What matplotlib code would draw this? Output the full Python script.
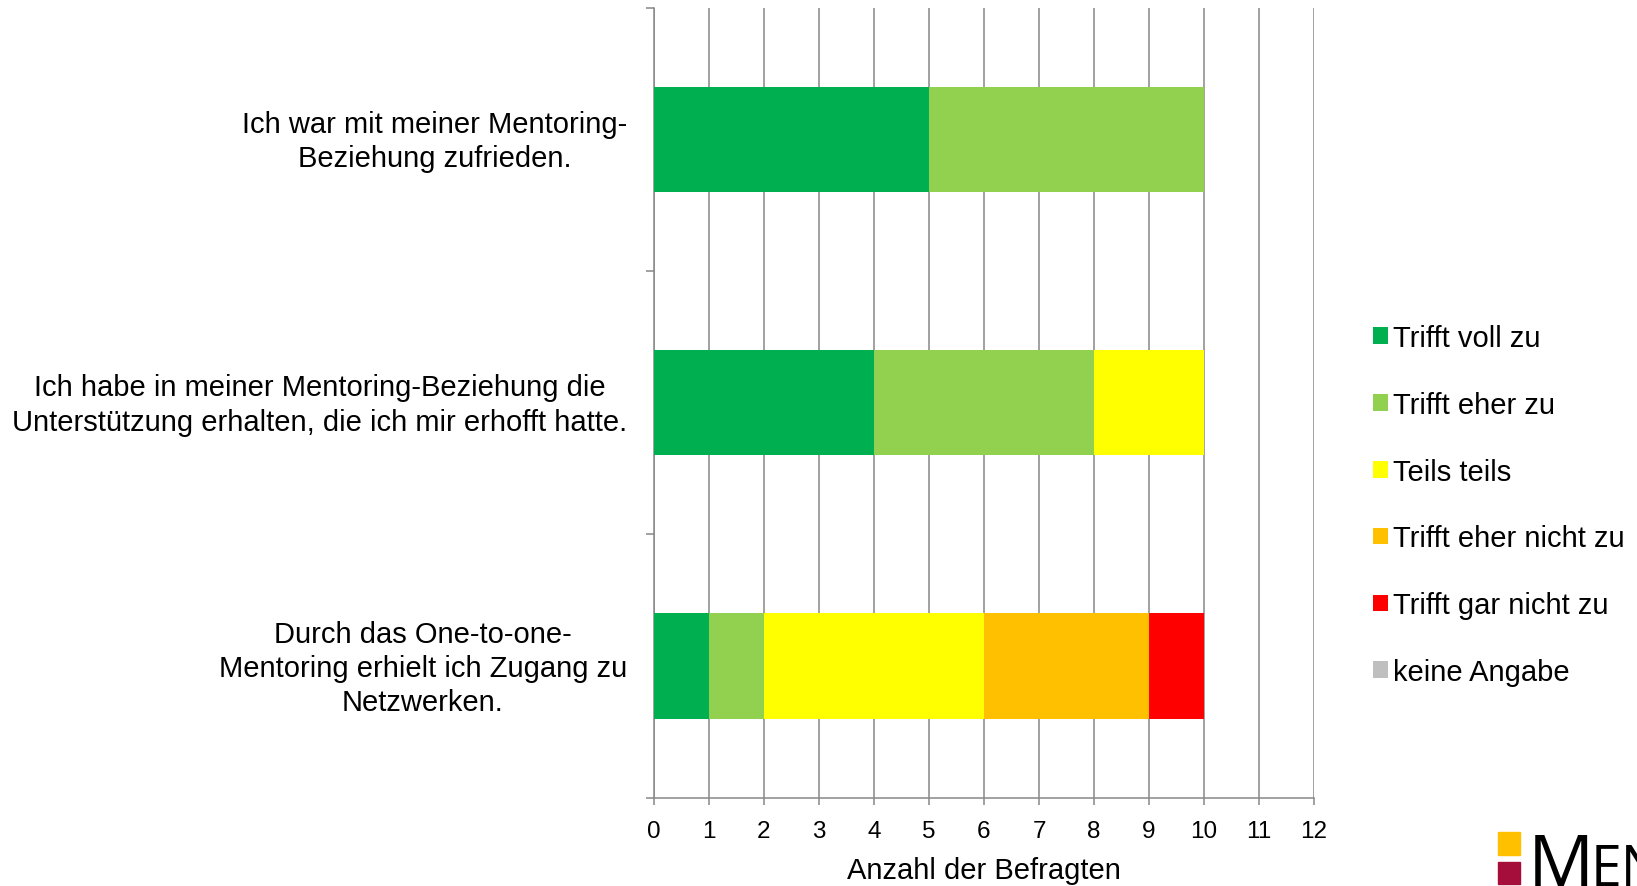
import numpy as np
import matplotlib.pyplot as plt
from matplotlib.patches import Rectangle
from matplotlib.transforms import ScaledTranslation

plt.rcParams['font.family'] = ['Liberation Sans', 'DejaVu Sans']

questions = [
    "Ich war mit meiner Mentoring-\nBeziehung zufrieden.",
    "Ich habe in meiner Mentoring-Beziehung die\nUnterstützung erhalten, die ich mir erhofft hatte.",
    "Durch das One-to-one-\nMentoring erhielt ich Zugang zu\nNetzwerken.",
]
answers = ["Trifft voll zu", "Trifft eher zu", "Teils teils",
           "Trifft eher nicht zu", "Trifft gar nicht zu", "keine Angabe"]
colors = ["#00B050", "#92D050", "#FFFF00", "#FFC000", "#FF0000", "#BFBFBF"]

voll = [5, 4, 1]
eher = [5, 4, 1]
teils = [0, 2, 4]
eher_nicht = [0, 0, 3]
gar_nicht = [0, 0, 1]
keine = [0, 0, 0]
counts = [voll, eher, teils, eher_nicht, gar_nicht, keine]

W, H = 1637, 887
fig = plt.figure(figsize=(W / 100, H / 100), dpi=100)
ax = fig.add_axes([654 / W, 1 - 798.7 / H, 660 / W, 789.7 / H])

y = np.arange(len(questions))
left = np.zeros(len(questions))
for vals, name, c in zip(counts, answers, colors):
    ax.barh(y, vals, left=left, height=0.4, color=c, label=name, zorder=3)
    left += np.array(vals)

ax.set_xlim(0, 12)
ax.set_ylim(len(questions) - 0.5, -0.5)
ax.set_xticks(range(0, 13))
ax.set_yticks(y)
ax.set_yticks(np.arange(len(questions) + 1) - 0.5, minor=True)
ax.tick_params(axis='y', which='major', length=0, pad=19.5)
ax.tick_params(axis='y', which='minor', length=5.8, width=1.1, color='#888888')
ax.tick_params(axis='x', length=5, width=1.1, color='#888888', labelsize=17.5, pad=11)
ax.set_yticklabels(questions, fontsize=21, ma='center', linespacing=1.28)
# nudge the question labels up a little
shift = ScaledTranslation(0, 4.5 / 100, fig.dpi_scale_trans)
for lab in ax.get_yticklabels():
    lab.set_transform(lab.get_transform() + shift)

ax.xaxis.grid(True, color='#888888', linewidth=1.1, zorder=0)
ax.set_axisbelow(True)

for s in ['top', 'right']:
    ax.spines[s].set_visible(False)
for s in ['left', 'bottom']:
    ax.spines[s].set_color('#888888')
    ax.spines[s].set_linewidth(1.1)

ax.set_xlabel("Anzahl der Befragten", fontsize=21, labelpad=10)

fig.legend(loc='center left', bbox_to_anchor=(1373 / W, 1 - 506 / H),
           frameon=False, fontsize=21, handlelength=0.5, handleheight=0.5,
           handletextpad=0.2, labelspacing=1.33, borderpad=0, borderaxespad=0)

# logo, bottom right corner
fig.patches.append(Rectangle((1498 / W, 1 - 856 / H), 22 / W, 23 / H,
                             transform=fig.transFigure, color='#FFC000'))
fig.patches.append(Rectangle((1498 / W, 1 - 885 / H), 22 / W, 22 / H,
                             transform=fig.transFigure, color='#A50D3A'))
fig.text(1528 / W, 0, "M", fontsize=53, family='Open Sans', va='baseline')
fig.text(1591 / W, 0, "ENTORING", fontsize=40, family='Open Sans', va='baseline')

fig.savefig("out.png", dpi=100)
